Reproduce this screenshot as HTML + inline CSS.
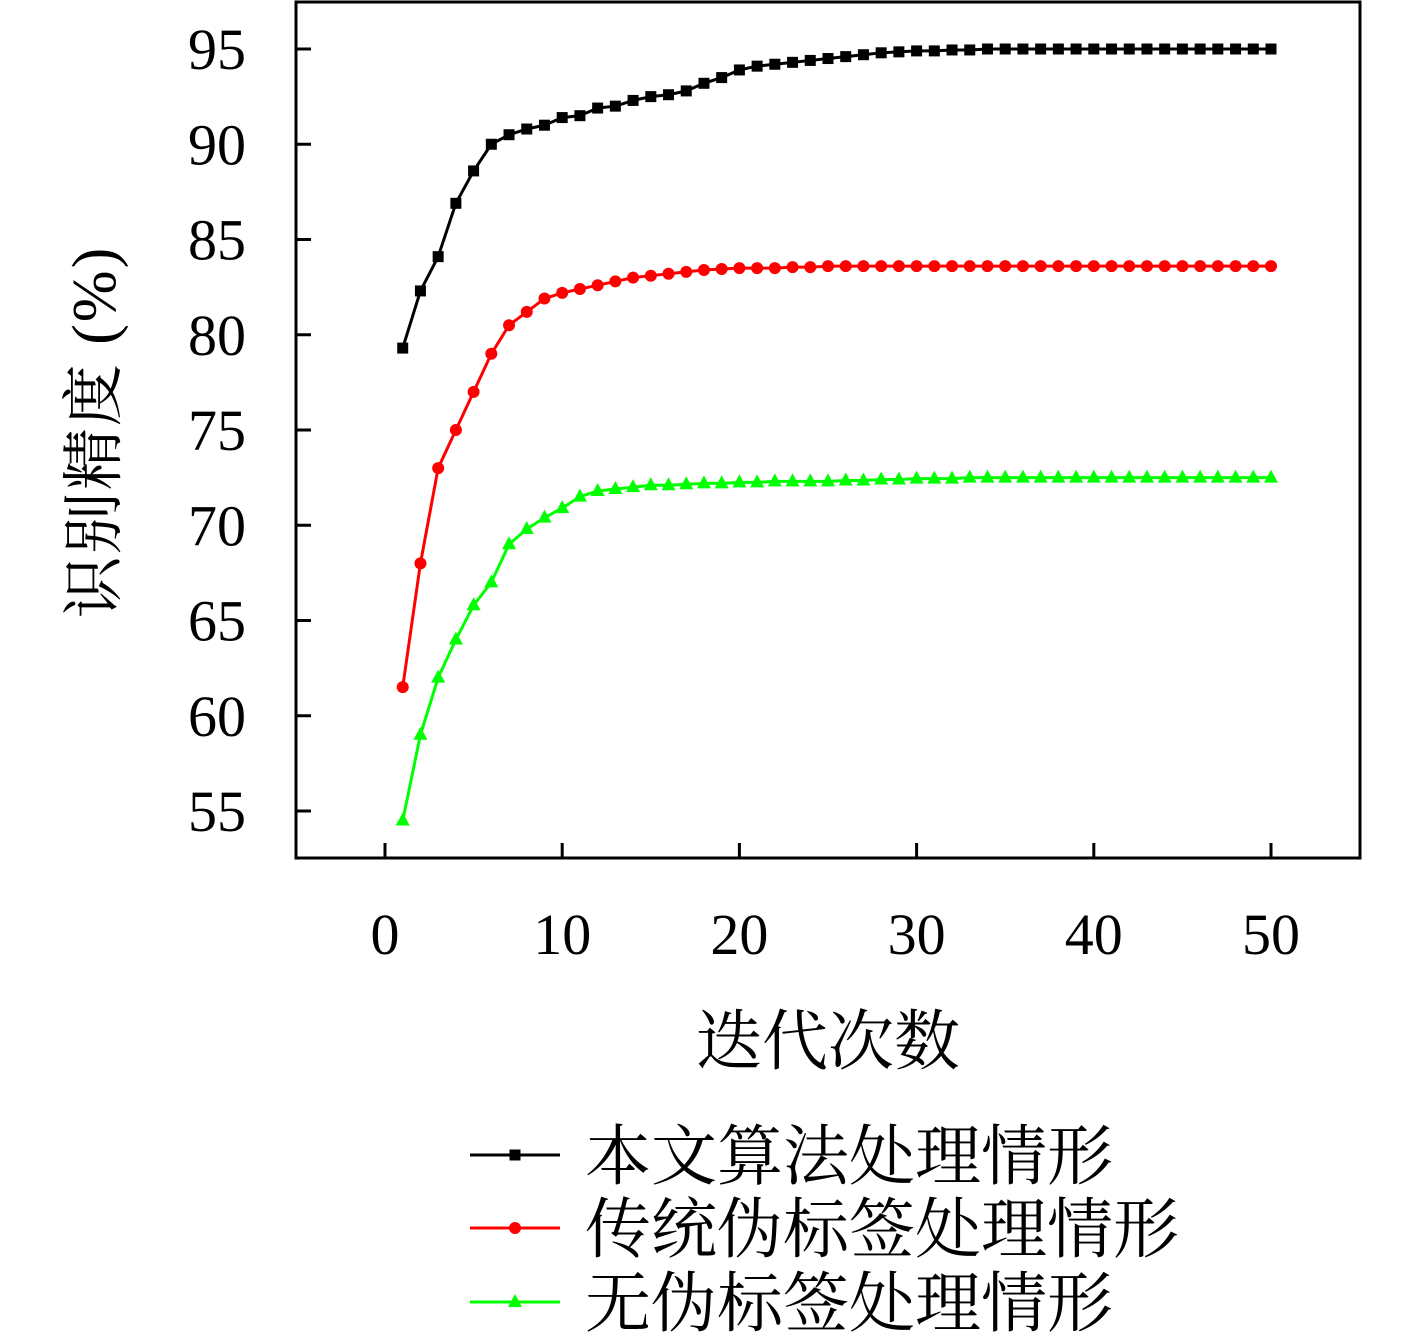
<!DOCTYPE html>
<html><head><meta charset="utf-8"><style>
body{margin:0;background:#fff;}
svg{display:block;}
text{font-family:"Liberation Serif","Noto Serif CJK SC",serif;fill:#000;}
</style></head><body>
<svg id="chart" width="1417" height="1335" viewBox="0 0 1417 1335" xmlns="http://www.w3.org/2000/svg">
<rect x="296" y="2" width="1064" height="856" fill="none" stroke="#000" stroke-width="3"/>
<g id="axes"></g>
<g id="series"></g>
<text transform="translate(115,432) rotate(-90)" text-anchor="middle" font-size="62" letter-spacing="2">识别精度 (%)</text>
<text x="828" y="1064" text-anchor="middle" font-size="66">迭代次数</text>
<g id="legend"></g>
</svg>
<script>
const iterations = Array.from({length:50},(_,i)=>i+1);
const seriesNames = ["本文算法处理情形","传统伪标签处理情形","无伪标签处理情形"];
const seriesColors = ["#000000","#ff0000","#00ff00"];
const proposed = [79.3,82.3,84.1,86.9,88.6,90.0,90.5,90.8,91.0,91.4,91.5,91.9,92.0,92.3,92.5,92.6,92.8,93.2,93.5,93.9,94.1,94.2,94.3,94.4,94.5,94.6,94.7,94.8,94.85,94.9,94.9,94.95,94.95,95,95,95,95,95,95,95,95,95,95,95,95,95,95,95,95,95];
const traditional = [61.5,68.0,73.0,75.0,77.0,79.0,80.5,81.2,81.9,82.2,82.4,82.6,82.8,83.0,83.1,83.2,83.3,83.4,83.45,83.5,83.5,83.5,83.55,83.55,83.6,83.6,83.6,83.6,83.6,83.6,83.6,83.6,83.6,83.6,83.6,83.6,83.6,83.6,83.6,83.6,83.6,83.6,83.6,83.6,83.6,83.6,83.6,83.6,83.6,83.6];
const noLabel = [54.5,59.0,62.0,64.0,65.8,67.0,69.0,69.8,70.4,70.9,71.5,71.8,71.9,72.0,72.1,72.1,72.15,72.2,72.2,72.25,72.25,72.3,72.3,72.3,72.3,72.35,72.35,72.4,72.4,72.45,72.45,72.45,72.5,72.5,72.5,72.5,72.5,72.5,72.5,72.5,72.5,72.5,72.5,72.5,72.5,72.5,72.5,72.5,72.5,72.5];
const xTicks = [0,10,20,30,40,50];
const yTicks = [55,60,65,70,75,80,85,90,95];

const NS="http://www.w3.org/2000/svg";
const xs = v => 385 + (v-0)*(1271-385)/50;
const ys = v => 49 + (95-v)*(811-49)/40;
function mk(tag,attrs,parent){const e=document.createElementNS(NS,tag);for(const k in attrs)e.setAttribute(k,attrs[k]);parent.appendChild(e);return e;}
const axes=document.getElementById('axes');
xTicks.forEach(t=>{
  const l=mk('line',{x1:xs(t),x2:xs(t),y1:858,y2:843,stroke:'#000','stroke-width':3},axes);
  
  
  const tx=mk('text',{x:xs(t),y:954,'text-anchor':'middle','font-size':58},axes);
  tx.textContent=t;
  
  
});
yTicks.forEach(t=>{
  const l=mk('line',{x1:296,x2:311,y1:ys(t),y2:ys(t),stroke:'#000','stroke-width':3},axes);
  
  
  const tx=mk('text',{x:246,y:ys(t)+20,'text-anchor':'end','font-size':58},axes);
  tx.textContent=t;
  
  
});
function marker(kind,x,y,color,parent){
  let m;
  if(kind===0) m=mk('rect',{x:x-5.5,y:y-5.5,width:11,height:11,fill:color},parent);
  else if(kind===1) m=mk('circle',{cx:x,cy:y,r:6,fill:color},parent);
  else m=mk('polygon',{points:`${x},${y-8} ${x-7},${y+5} ${x+7},${y+5}`,fill:color},parent);
  return m;
}
const allSeries=[proposed,traditional,noLabel];
const sg=document.getElementById('series');
allSeries.forEach((vals,si)=>{
  const g=mk('g',{},sg);
  
  
  const pts=vals.map((v,i)=>xs(iterations[i])+','+ys(v)).join(' ');
  const pl=mk('polyline',{points:pts,fill:'none',stroke:seriesColors[si],'stroke-width':3},g);
  
  
  vals.forEach((v,i)=>{
    const m=marker(si,xs(iterations[i]),ys(v),seriesColors[si],g);
    
    
  });
});
const lg=document.getElementById('legend');
const legY=[1155,1228,1302];
seriesNames.forEach((n,i)=>{
  const g=mk('g',{},lg);
  
  
  mk('line',{x1:470,x2:560,y1:legY[i],y2:legY[i],stroke:seriesColors[i],'stroke-width':3},g);
  marker(i,515,legY[i],seriesColors[i],g);
  const t=mk('text',{x:585,y:legY[i]+24,'font-size':66},g);
  t.textContent=n;
});
</script>
</body></html>
